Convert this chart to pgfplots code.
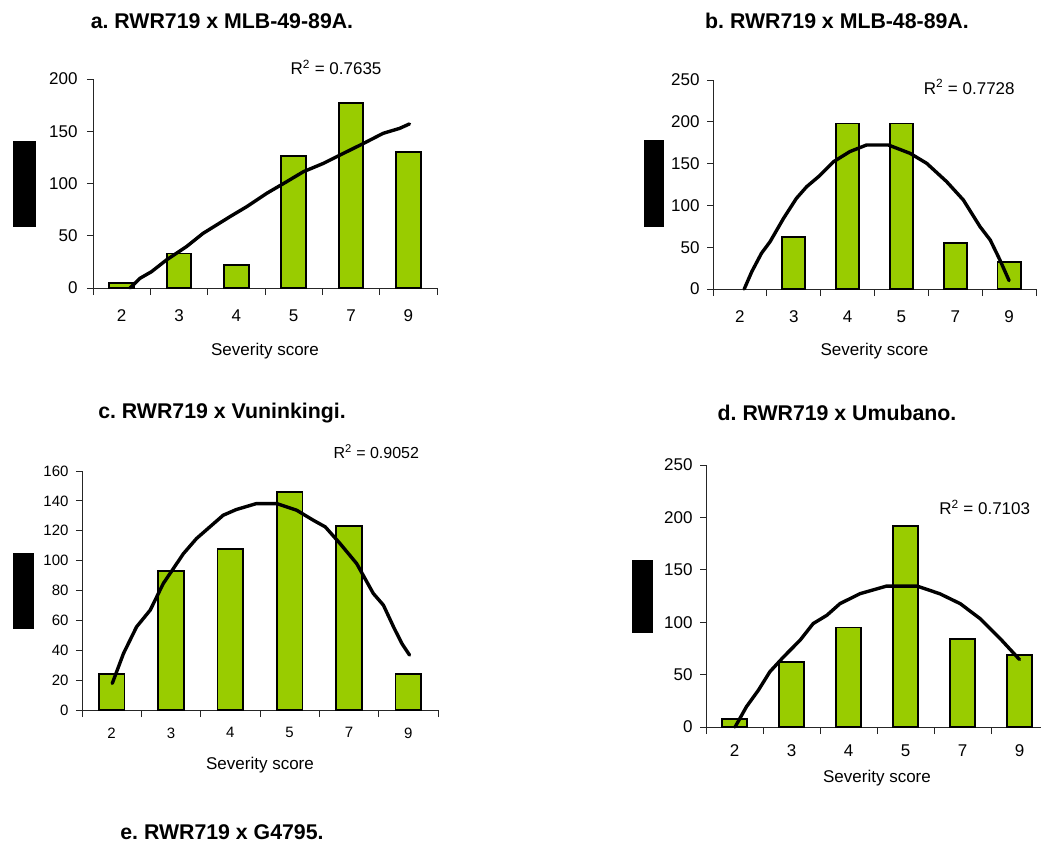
\documentclass[border=0pt]{standalone}
\usepackage{fontspec}
\setmainfont{Liberation Sans}
\usepackage{pgfplots}
\pgfplotsset{compat=1.18}
\definecolor{barfill}{HTML}{99CC00}
\frenchspacing

\pgfplotsset{
  sevaxis/.style={
    scale only axis,
    axis x line*=bottom, axis y line*=left,
    xmin=0.5, xmax=6.5, ymin=0,
    xtick={1,...,6}, xticklabels={2,3,4,5,7,9},
    major x tick style={draw=none},
    minor xtick={0.5,1.5,...,6.5},
    minor tick length=7pt,
    major tick length=6pt,
    tick align=outside,
    axis line style={line width=0.9pt, black!85},
    tick style={line width=0.9pt, black!85},
    tick label style={font=\fontsize{17}{20}\selectfont},
    /pgf/number format/assume math mode=true,
    xlabel={Severity score},
    xlabel style={font=\fontsize{17}{20}\selectfont},
    clip=false,
  },
  bars/.style={ybar, bar width=0.43, fill=barfill, draw=black, line width=1.8pt},
  trend/.style={black, line width=3.4pt, line cap=round, line join=round, mark=none},
}

\begin{document}
\begin{tikzpicture}
\useasboundingbox (0pt,0pt) rectangle (1041pt,-844pt);

% panel titles
\begin{scope}[every node/.style={font=\bfseries\fontsize{21.3}{25}\selectfont}]
\node at (222pt,-21pt) {a. RWR719 x MLB-49-89A.};
\node at (837pt,-21pt) {b. RWR719 x MLB-48-89A.};
\node at (222pt,-413pt) {c. RWR719 x Vuninkingi.};
\node at (837pt,-413pt) {d. RWR719 x Umubano.};
\node at (222pt,-832pt) {e. RWR719 x G4795.};
\end{scope}

% a
\begin{axis}[sevaxis, at={(93pt,-288pt)}, anchor=south west,
  width=344pt, height=209pt, ymax=200, ytick={0,50,...,200},
  xticklabel style={yshift=-12pt}, yticklabel style={xshift=-6pt},
  xlabel style={yshift=-15pt}]
\addplot[bars] coordinates {(1,5) (2,33) (3,22) (4,126) (5,177) (6,130)};
\addplot[trend] coordinates {(1.145,0) (1.32,9.3) (1.52,15.6) (1.78,26.8) (2.13,39.6)
  (2.42,52.3) (2.89,68.3) (3.18,77.8) (3.53,90.6) (3.88,101.8) (4.17,111.3)
  (4.52,119.3) (4.87,128.9) (5.22,138.4) (5.56,148) (5.85,152.8) (6.02,157)};
\node[font=\fontsize{17}{20}\selectfont] at (axis cs:4.74,211) {R\textsuperscript{2} = 0.7635};
\end{axis}

% b
\begin{axis}[sevaxis, at={(713pt,-289pt)}, anchor=south west,
  width=323pt, height=209pt, ymax=250, ytick={0,50,...,250},
  xticklabel style={yshift=-12pt}, yticklabel style={xshift=-4pt},
  xlabel style={yshift=-14pt}]
\addplot[bars] coordinates {(2,62) (3,198) (4,198) (5,55) (6,32)};
\addplot[trend] coordinates {(1.08,0) (1.22,20.7) (1.40,42.7) (1.56,56.6) (1.81,84.5)
  (2.05,108.5) (2.24,122.4) (2.46,134.4) (2.74,152.3) (3.04,164.3) (3.35,172.2)
  (3.76,172.2) (4.16,162.3) (4.47,150.3) (4.84,128.4) (5.15,106.5) (5.46,74.6)
  (5.65,58.6) (5.83,34.7) (6.0,10)};
\node[font=\fontsize{17}{20}\selectfont] at (axis cs:5.26,241.6) {R\textsuperscript{2} = 0.7728};
\end{axis}

% c
\begin{axis}[sevaxis, at={(82pt,-710pt)}, anchor=south west,
  width=356pt, height=239pt, ymax=160, ytick={0,20,...,160},
  tick label style={font=\fontsize{15}{18}\selectfont},
  xticklabel style={yshift=-8pt}, yticklabel style={xshift=-4pt},
  xlabel style={yshift=-12pt}]
\addplot[bars] coordinates {(1,24) (2,93) (3,108) (4,146) (5,123) (6,24)};
\addplot[trend] coordinates {(1.01,17.8) (1.2,37.9) (1.42,55.7) (1.65,66.9) (1.87,84.7)
  (2.21,104.7) (2.43,114.8) (2.88,130.4) (3.1,134.2) (3.44,138.2) (3.78,138.2)
  (4.12,133.7) (4.4,127) (4.6,122.6) (4.85,111.4) (5.13,98) (5.41,78) (5.58,70.2)
  (5.75,55.7) (5.89,44.6) (6.02,36.8)};
\node[font=\fontsize{16}{19}\selectfont] at (axis cs:5.46,173) {R\textsuperscript{2} = 0.9052};
\end{axis}

% d
\begin{axis}[sevaxis, at={(706pt,-727pt)}, anchor=south west,
  width=342pt, height=262pt, ymax=250, ytick={0,50,...,250},
  xticklabel style={yshift=-8pt}, yticklabel style={xshift=-4pt},
  xlabel style={yshift=-7pt}]
\addplot[bars] coordinates {(1,8) (2,62) (3,95) (4,192) (5,84) (6,69)};
\addplot[trend] coordinates {(1.01,0) (1.21,19.4) (1.42,35.2) (1.62,52.7) (1.86,66.9)
  (2.15,82.8) (2.38,98.7) (2.62,106.6) (2.85,117.7) (3.2,127.2) (3.67,134.5)
  (4.2,134.5) (4.6,127.2) (4.96,117.7) (5.31,103.4) (5.66,84.4) (6.0,64.4)};
\node[font=\fontsize{17}{20}\selectfont] at (axis cs:5.39,209.6) {R\textsuperscript{2} = 0.7103};
\end{axis}

% obscured y-axis titles
\fill[black] (13pt,-141pt) rectangle (36pt,-227pt);
\fill[black] (644pt,-140pt) rectangle (664pt,-227pt);
\fill[black] (13pt,-553pt) rectangle (34pt,-629pt);
\fill[black] (632pt,-560pt) rectangle (653pt,-633pt);
\end{tikzpicture}
\end{document}
